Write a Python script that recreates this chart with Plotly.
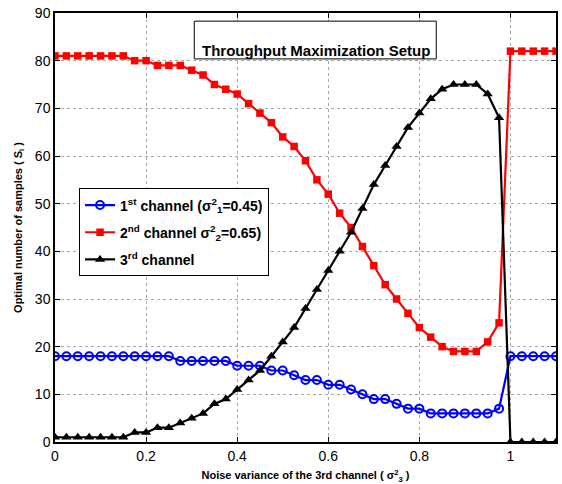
import plotly.graph_objects as go

x_vals = [round(i * 0.025, 3) for i in range(45)]

ch1 = [18]*11 + [17]*5 + [16]*3 + [15]*2 + [14] + [13]*2 + [12]*2 + [11] + [10] + [9]*2 + [8] + [7]*2 + [6]*6 + [7] + [18]*5
ch2 = [81]*7 + [80]*2 + [79]*3 + [78, 77, 75, 74, 73, 71, 69, 67, 64, 62, 59, 55, 52, 48, 45, 41, 37, 33, 30, 27, 24, 22, 20, 19, 19, 19, 21, 25] + [82]*5
ch3 = [1]*7 + [2]*2 + [3]*2 + [4, 5, 6, 8, 9, 11, 13, 15, 18, 21, 24, 28, 32, 36, 40, 44, 49, 54, 58, 62, 66, 69, 72, 74, 75, 75, 75, 73, 68] + [0]*5

names = ["1<sup>st</sup> channel (σ<sup>2</sup><sub>1</sub>=0.45)",
         "2<sup>nd</sup> channel σ<sup>2</sup><sub>2</sub>=0.65)",
         "3<sup>rd</sup> channel"]
x_ticks = [0, 0.2, 0.4, 0.6, 0.8, 1]
x_tick_labels = ["0", "0.2", "0.4", "0.6", "0.8", "1"]
y_ticks = list(range(0, 91, 10))

FONT = "Liberation Sans, Arial"

fig = go.Figure()
fig.add_trace(go.Scatter(x=x_vals, y=ch1, name="<b>" + names[0] + "</b>", legendgroup="a", mode="lines+markers",
                         line=dict(color="#0000ff", width=2.2),
                         marker=dict(symbol="circle-open", size=8, color="#0000ff", line=dict(width=2, color="#0000ff"))))
fig.add_trace(go.Scatter(x=x_vals, y=ch2, name="<b>" + names[1] + "</b>", legendgroup="b", mode="lines+markers",
                         line=dict(color="#ff0000", width=2.2),
                         marker=dict(symbol="square", size=7.5, color="#ff0000")))
fig.add_trace(go.Scatter(x=x_vals, y=ch3, name="<b>" + names[2] + "</b>", legendgroup="c", mode="lines+markers",
                         line=dict(color="#000000", width=2.2),
                         marker=dict(symbol="triangle-up", size=9, color="#000000")))

axis_common = dict(showline=True, linecolor="black", linewidth=1.5, mirror="allticks",
                   ticks="inside", ticklen=5, tickcolor="black",
                   showgrid=True, gridcolor="#a8a8a8", griddash="dot", gridwidth=1,
                   zeroline=False, tickfont=dict(family=FONT, size=14, color="black"))

fig.update_xaxes(range=[0, 1.1], tickvals=x_ticks, ticktext=x_tick_labels,
                 title=dict(text="<b>Noise variance of the 3rd channel ( σ<sup>2</sup><sub>3</sub> )</b>",
                            font=dict(family=FONT, size=11, color="black"), standoff=9),
                 **axis_common)
fig.update_yaxes(range=[0, 90], tickvals=y_ticks,
                 title=dict(text="<b>Optimal number of samples ( S<sub>i</sub> )</b>",
                            font=dict(family=FONT, size=11, color="black"), standoff=10),
                 **axis_common)

fig.add_shape(type="rect", xref="paper", yref="paper", x0=0.278, x1=0.761, y0=0.893, y1=0.981,
              line=dict(color="black", width=1), fillcolor="white", layer="above")
fig.add_annotation(xref="paper", yref="paper", x=0.52, y=0.937, text="<b>Throughput Maximization Setup</b>",
                   showarrow=False, font=dict(family=FONT, size=15, color="black"))

fig.update_layout(
    width=562, height=484,
    margin=dict(l=55, r=4, t=13, b=40),
    paper_bgcolor="white", plot_bgcolor="white",
    showlegend=True,
    legend=dict(x=0.048, y=0.591, xanchor="left", yanchor="top",
                bgcolor="white", bordercolor="black", borderwidth=1,
                font=dict(family=FONT, size=14, color="black"),
                itemwidth=30, tracegroupgap=6),
    font=dict(family=FONT, color="black"),
)

fig.write_html("out.html")
